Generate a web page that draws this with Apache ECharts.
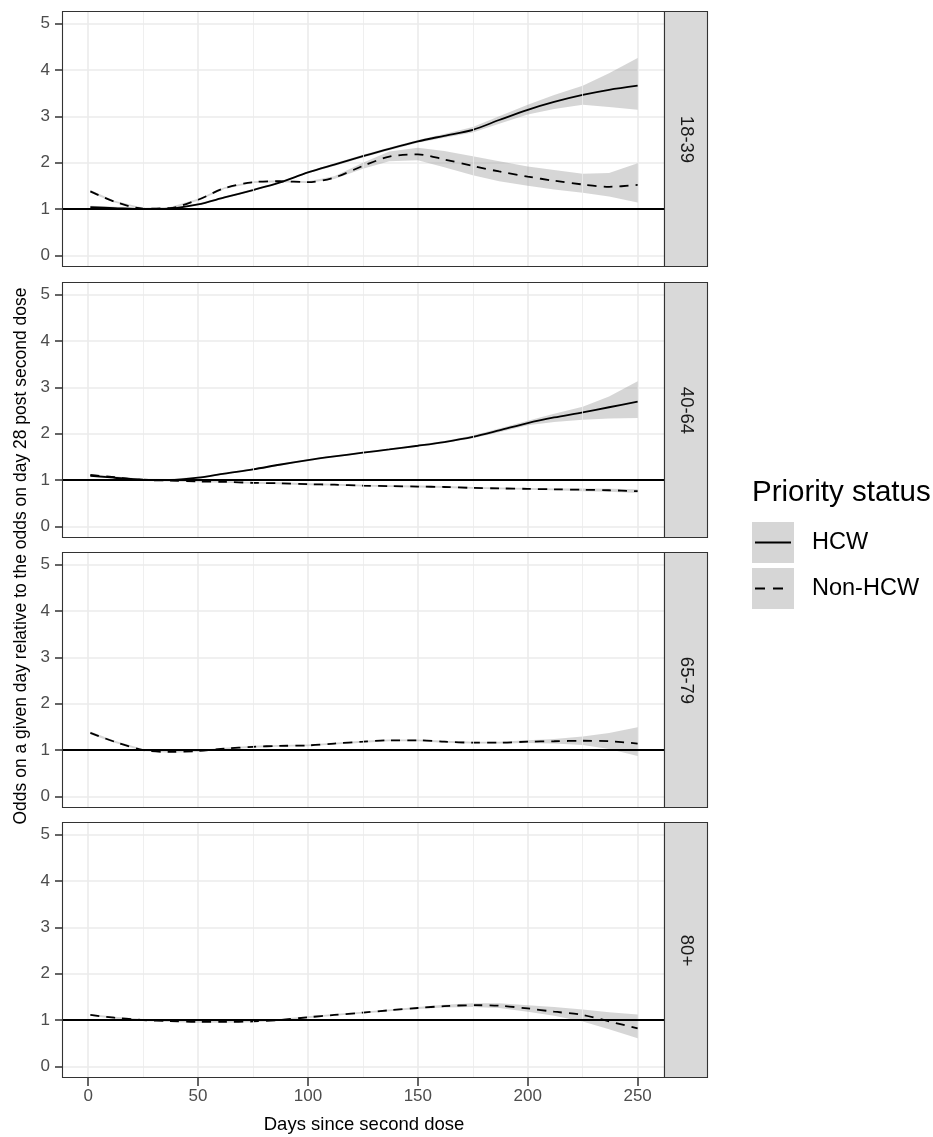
<!DOCTYPE html>
<html><head><meta charset="utf-8">
<script src="https://cdn.jsdelivr.net/npm/echarts@6/dist/echarts.min.js"></script>
<style>html,body{margin:0;padding:0;background:#fff}#c{width:933px;height:1137px}</style>
</head><body><div id="c"></div>
<script>
// ---------- data ----------
const days = [1,12,25,37,50,62,75,87,100,112,125,137,150,162,175,187,200,212,225,237,250];
const panelLabels = ['18-39','40-64','65-79','80+'];
const xTicks = [0,50,100,150,200,250];
const xMinorGrid = [25,75,125,175,225];
const yTicks = [0,1,2,3,4,5];
const referenceOdds = 1;
const legendTitle = 'Priority status';
const groupNames = ['HCW','Non-HCW'];
const xTitle = 'Days since second dose';
const yTitle = 'Odds on a given day relative to the odds on day 28 post second dose';

// 18-39
const hcw_1839    = [1.04,1.02,1.00,1.01,1.10,1.25,1.41,1.57,1.79,1.96,2.14,2.30,2.46,2.58,2.71,2.92,3.14,3.31,3.46,3.57,3.66];
const hcw_1839_lo = [1.01,0.99,0.98,0.99,1.08,1.23,1.39,1.55,1.77,1.93,2.11,2.27,2.43,2.54,2.65,2.84,3.04,3.16,3.25,3.20,3.14];
const hcw_1839_hi = [1.07,1.05,1.02,1.03,1.12,1.27,1.43,1.59,1.81,1.99,2.17,2.33,2.49,2.62,2.77,3.00,3.25,3.46,3.66,3.93,4.26];
const non_1839    = [1.38,1.16,1.01,1.02,1.20,1.45,1.58,1.60,1.58,1.68,1.93,2.13,2.18,2.07,1.93,1.81,1.70,1.61,1.53,1.48,1.52];
const non_1839_lo = [1.35,1.14,0.99,1.00,1.18,1.43,1.56,1.58,1.56,1.65,1.87,2.03,2.05,1.90,1.73,1.60,1.50,1.42,1.35,1.27,1.14];
const non_1839_hi = [1.41,1.18,1.03,1.04,1.22,1.47,1.60,1.62,1.60,1.71,2.00,2.24,2.32,2.25,2.14,2.03,1.92,1.84,1.76,1.78,1.99];
// 40-64
const hcw_4064    = [1.09,1.05,1.01,1.00,1.05,1.14,1.23,1.33,1.43,1.51,1.59,1.66,1.74,1.82,1.93,2.07,2.23,2.35,2.46,2.57,2.69];
const hcw_4064_lo = [1.07,1.03,0.99,0.98,1.03,1.12,1.21,1.31,1.41,1.49,1.57,1.64,1.72,1.80,1.90,2.03,2.18,2.25,2.30,2.33,2.34];
const hcw_4064_hi = [1.11,1.07,1.03,1.02,1.07,1.16,1.25,1.35,1.45,1.53,1.61,1.68,1.76,1.84,1.96,2.11,2.28,2.43,2.58,2.80,3.13];
const non_4064    = [1.11,1.06,1.00,0.99,0.97,0.96,0.94,0.93,0.91,0.90,0.88,0.87,0.86,0.85,0.83,0.82,0.81,0.80,0.79,0.78,0.76];
const non_4064_lo = [1.09,1.04,0.98,0.97,0.95,0.94,0.92,0.91,0.89,0.88,0.86,0.85,0.84,0.83,0.81,0.80,0.79,0.78,0.76,0.75,0.72];
const non_4064_hi = [1.13,1.08,1.02,1.01,0.99,0.98,0.96,0.95,0.93,0.92,0.90,0.89,0.88,0.87,0.85,0.84,0.83,0.82,0.82,0.81,0.80];
// 65-79
const non_6579    = [1.37,1.18,1.00,0.96,0.98,1.03,1.07,1.09,1.10,1.14,1.18,1.21,1.21,1.18,1.16,1.16,1.18,1.19,1.20,1.19,1.14];
const non_6579_lo = [1.34,1.16,0.98,0.94,0.96,1.01,1.05,1.07,1.08,1.12,1.16,1.19,1.19,1.16,1.14,1.14,1.15,1.14,1.11,1.02,0.87];
const non_6579_hi = [1.40,1.20,1.02,0.98,1.00,1.05,1.09,1.11,1.12,1.16,1.20,1.23,1.23,1.20,1.18,1.18,1.21,1.24,1.29,1.37,1.49];
// 80+
const non_80      = [1.11,1.05,1.00,0.98,0.96,0.96,0.97,1.00,1.06,1.11,1.16,1.21,1.26,1.30,1.32,1.31,1.25,1.18,1.11,0.97,0.82];
const non_80_lo   = [1.09,1.03,0.98,0.96,0.94,0.94,0.95,0.98,1.04,1.09,1.14,1.19,1.24,1.27,1.28,1.26,1.18,1.09,0.97,0.80,0.61];
const non_80_hi   = [1.13,1.07,1.02,1.00,0.98,0.98,0.99,1.02,1.08,1.13,1.18,1.23,1.28,1.33,1.36,1.36,1.32,1.28,1.23,1.17,1.12];

const panelData = [
  { hcw: [hcw_1839, hcw_1839_lo, hcw_1839_hi], non: [non_1839, non_1839_lo, non_1839_hi] },
  { hcw: [hcw_4064, hcw_4064_lo, hcw_4064_hi], non: [non_4064, non_4064_lo, non_4064_hi] },
  { hcw: null, non: [non_6579, non_6579_lo, non_6579_hi] },
  { hcw: null, non: [non_80, non_80_lo, non_80_hi] }
];

// ---------- layout / style ----------
const FONT = '"Liberation Sans", Arial, sans-serif';
const GRID_LEFT = 63, GRID_W = 602, GRID_H = 255;
const GRID_TOPS = [12, 283, 553, 823];
const STRIP_W = 43;
const RIBBON = 'rgba(153,153,153,0.4)';
const DASH = [9, 7];
const X_MIN = -11.45, X_MAX = 262.45, Y_MIN = -0.25, Y_MAX = 5.25;
const TICK_FS = 17;
const TICK_COLOR = '#333333';

const zip = (xs, ys) => xs.map((x, i) => [x, ys[i]]);

const grids = [], xAxes = [], yAxes = [], series = [], graphics = [];

GRID_TOPS.forEach((top, i) => {
  const last = i === GRID_TOPS.length - 1;
  grids.push({ left: GRID_LEFT, top: top, width: GRID_W, height: GRID_H, show: false });
  xAxes.push({
    type: 'value', gridIndex: i, min: X_MIN, max: X_MAX, position: 'bottom',
    axisLine: { show: false, onZero: false },
    axisTick: { show: last, inside: false, customValues: xTicks, length: 8, lineStyle: { color: TICK_COLOR, width: 1.5 } },
    axisLabel: { show: last, margin: 10, color: '#4D4D4D', fontSize: TICK_FS, fontFamily: FONT,
      formatter: v => (xTicks.indexOf(Math.round(v * 100) / 100) >= 0 ? String(v) : '') },
    splitLine: { show: true, lineStyle: { color: '#EBEBEB', width: 1.6 } },
    name: last ? xTitle : '', nameLocation: 'middle', nameGap: 37,
    nameTextStyle: { color: '#000', fontSize: 18.5, fontFamily: FONT }
  });
  yAxes.push({
    type: 'value', gridIndex: i, min: Y_MIN, max: Y_MAX, position: 'left',
    axisLine: { show: false, onZero: false },
    axisTick: { show: true, inside: false, customValues: yTicks, length: 8, lineStyle: { color: TICK_COLOR, width: 1.5 } },
    axisLabel: { margin: 13, color: '#4D4D4D', fontSize: TICK_FS, fontFamily: FONT,
      formatter: v => (yTicks.indexOf(Math.round(v * 100) / 100) >= 0 ? String(v) : '') },
    splitLine: { show: true, lineStyle: { color: '#EBEBEB', width: 1.6 } }
  });

  // minor vertical gridlines
  series.push({
    type: 'line', xAxisIndex: i, yAxisIndex: i, silent: true, z: 1,
    data: [[days[0], referenceOdds]], symbol: 'none', lineStyle: { width: 0, opacity: 0 },
    markLine: { silent: true, symbol: 'none', label: { show: false },
      lineStyle: { color: '#EBEBEB', width: 0.8, type: 'solid' },
      data: xMinorGrid.map(v => ({ xAxis: v })) }
  });

  const pd = panelData[i];
  const groups = [['hcw', 'solid'], ['non', DASH]];
  // confidence ribbons drawn through the axes' scales
  groups.forEach(([key]) => {
    const g = pd[key]; if (!g) return;
    const lo = g[1], hi = g[2];
    series.push({
      type: 'custom', xAxisIndex: i, yAxisIndex: i, silent: true, z: 2,
      data: days.map((d, k) => [d, lo[k], hi[k]]),
      encode: { x: 0, y: [1, 2] },
      renderItem: (params, api) => {
        if (params.dataIndex !== 0) return null;
        const upper = days.map((d, k) => api.coord([d, hi[k]]));
        const lower = days.map((d, k) => api.coord([d, lo[k]])).reverse();
        return { type: 'polygon', shape: { points: upper.concat(lower) },
          style: { fill: RIBBON, stroke: null } };
      }
    });
  });
  // reference line at odds = 1
  series.push({
    type: 'line', xAxisIndex: i, yAxisIndex: i, silent: true, z: 3,
    data: [[days[0], referenceOdds]], symbol: 'none', lineStyle: { width: 0, opacity: 0 },
    markLine: { silent: true, symbol: 'none', label: { show: false },
      lineStyle: { color: '#000', width: 1.8, type: 'solid' },
      data: [{ yAxis: referenceOdds }] }
  });
  // fitted curves
  groups.forEach(([key, dash]) => {
    const g = pd[key]; if (!g) return;
    series.push({ type: 'line', name: key === 'hcw' ? groupNames[0] : groupNames[1],
      xAxisIndex: i, yAxisIndex: i, z: 4, silent: true,
      data: zip(days, g[0]), symbol: 'none', smooth: 0.3,
      lineStyle: { color: '#000', width: 1.8, type: dash } });
  });

  // panel border
  graphics.push({ type: 'rect', z: 100, silent: true,
    shape: { x: GRID_LEFT - 0.5, y: top - 0.5, width: GRID_W, height: GRID_H },
    style: { fill: 'none', stroke: '#333', lineWidth: 1.1 } });
  // facet strip
  graphics.push({ type: 'rect', z: 100, silent: true,
    shape: { x: GRID_LEFT + GRID_W - 0.5, y: top - 0.5, width: STRIP_W, height: GRID_H },
    style: { fill: '#D9D9D9', stroke: '#333', lineWidth: 1.1 } });
  graphics.push({ type: 'text', z: 101, silent: true,
    x: GRID_LEFT + GRID_W + STRIP_W / 2, y: top + GRID_H / 2, rotation: -Math.PI / 2,
    style: { text: panelLabels[i], fill: '#1A1A1A', fontSize: 18.5, fontFamily: FONT,
      align: 'center', verticalAlign: 'middle' } });
});

// y axis title
graphics.push({ type: 'text', z: 101, silent: true, x: 21, y: 556,
  rotation: Math.PI / 2,
  style: { text: yTitle, fill: '#000', fontSize: 17.5, fontFamily: FONT, align: 'center', verticalAlign: 'middle' } });

// legend
const LX = 752, LY = 493;
graphics.push({ type: 'text', z: 101, silent: true, x: LX, y: LY,
  style: { text: legendTitle, fill: '#000', fontSize: 29.5, fontFamily: FONT, align: 'left', verticalAlign: 'middle' } });
groupNames.forEach((name, k) => {
  const ky = 522 + k * 46;
  graphics.push({ type: 'rect', z: 100, silent: true, shape: { x: LX, y: ky, width: 42, height: 41 },
    style: { fill: '#D6D6D6' } });
  graphics.push({ type: 'line', z: 101, silent: true,
    shape: { x1: LX + 3, y1: ky + 20.5, x2: LX + 39, y2: ky + 20.5 },
    style: { stroke: '#000', lineWidth: 1.8, lineDash: k === 0 ? null : [10, 8] } });
  graphics.push({ type: 'text', z: 101, silent: true, x: LX + 60, y: ky + 20.5,
    style: { text: name, fill: '#000', fontSize: 23.5, fontFamily: FONT, align: 'left', verticalAlign: 'middle' } });
});

const chart = echarts.init(document.getElementById('c'), null, { renderer: 'canvas' });
chart.setOption({
  animation: false,
  backgroundColor: '#fff',
  textStyle: { fontFamily: FONT },
  grid: grids, xAxis: xAxes, yAxis: yAxes, series: series,
  graphic: { elements: graphics }
});
</script></body></html>
